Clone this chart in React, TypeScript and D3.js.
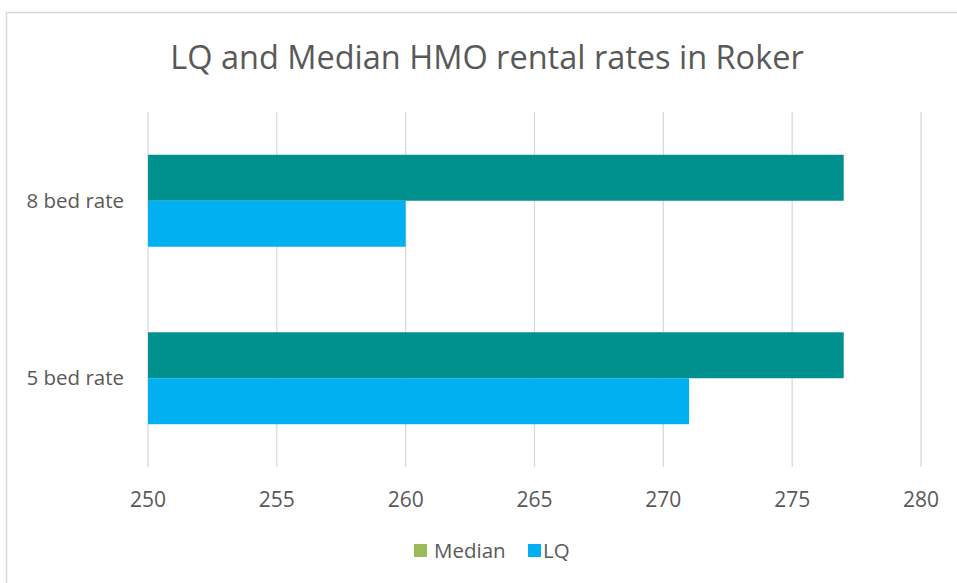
import React from "react";
import * as d3 from "d3";

const categories = ["8 bed rate", "5 bed rate"];
const seriesNames = ["Median", "LQ"];
const medianValues = [277, 277];
const lqValues = [260, 271];
const xTicks = [250, 255, 260, 265, 270, 275, 280];
const barColors = ["#00918E", "#00B0F0"];
const legendColors = ["#9BBB59", "#00B0F0"];
const title = "LQ and Median HMO rental rates in Roker";

const W = 957;
const H = 583;
const FONT = "'Open Sans', Lato, sans-serif";

export default function App() {
  const left = 148;
  const right = 921;
  const top = 112;
  const bottom = 467;

  const x = d3.scaleLinear().domain([250, 280]).range([left, right]);
  const y = d3.scaleBand().domain(categories).range([top, bottom]).paddingInner(0.482).paddingOuter(0.241);
  const sub = d3.scaleBand().domain(seriesNames).range([0, y.bandwidth()]);

  const series = [medianValues, lqValues];

  return (
    <svg
      width={W}
      height={H}
      style={{ position: "absolute", left: 0, top: 0, background: "#fff" }}
      fontFamily={FONT}
    >
      <rect x={6.5} y={12.5} width={W + 10} height={H + 10} fill="#fff" stroke="#d9d9d9" strokeWidth={1.5} />
      <text x={487} y={69} textAnchor="middle" fontSize={32.5} fill="#595959">
        {title}
      </text>
      {xTicks.map((t) => (
        <g key={t}>
          <line x1={x(t)} x2={x(t)} y1={top} y2={bottom} stroke="#d9d9d9" strokeWidth={1.3} />
          <text x={x(t)} y={507} textAnchor="middle" fontSize={21} fill="#595959">
            {t}
          </text>
        </g>
      ))}
      {categories.map((c, i) => (
        <g key={c}>
          {series.map((vals, j) => (
            <rect
              key={j}
              x={x(250)}
              y={(y(c) as number) + (sub(seriesNames[j]) as number)}
              width={x(vals[i]) - x(250)}
              height={sub.bandwidth()}
              fill={barColors[j]}
            />
          ))}
          <text
            x={124}
            y={(y(c) as number) + y.bandwidth() / 2 + 7}
            textAnchor="end"
            fontSize={20.5}
            fill="#595959"
          >
            {c}
          </text>
        </g>
      ))}
      <g>
        <rect x={414} y={544} width={13} height={13} fill={legendColors[0]} />
        <text x={434} y={558} fontSize={20.5} fill="#595959">
          {seriesNames[0]}
        </text>
        <rect x={528} y={544} width={13} height={13} fill={legendColors[1]} />
        <text x={543} y={558} fontSize={20.5} fill="#595959">
          {seriesNames[1]}
        </text>
      </g>
    </svg>
  );
}
